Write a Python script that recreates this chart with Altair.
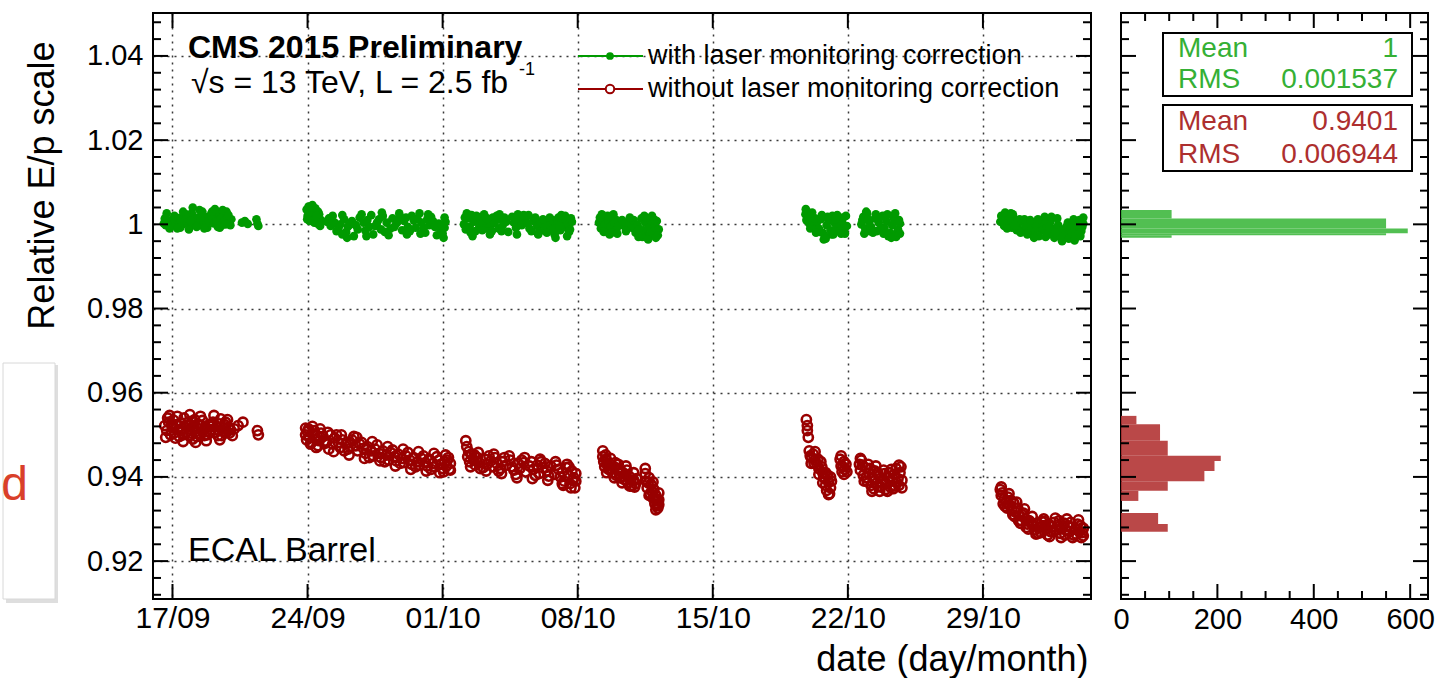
import altair as alt
import pandas as pd

FONT = "Liberation Sans"

# ---- E/p scale per run: (days since 17/09 00:00, relative E/p) ----
green_points = [
    # 17/09 - 21/09
    (-0.45, 1.0002), (-0.35, 0.9998), (-0.3, 1.0010), (-0.2, 1.0004), (-0.1, 0.9996),
    (0.0, 1.0012), (0.05, 1.0001), (0.15, 1.0008), (0.2, 0.9995), (0.3, 1.0015),
    (0.35, 1.0003), (0.45, 1.0009), (0.5, 0.9999), (0.6, 1.0018), (0.65, 1.0006),
    (0.75, 1.0002), (0.8, 1.0012), (0.9, 0.9997), (1.0, 1.0027), (1.05, 1.0040),
    (1.1, 1.0010), (1.2, 1.0003), (1.3, 1.0016), (1.35, 0.9998), (1.45, 1.0009),
    (1.5, 1.0021), (1.6, 1.0005), (1.7, 1.0013), (1.75, 0.9999), (1.85, 1.0018),
    (1.9, 1.0008), (2.0, 1.0024), (2.1, 1.0011), (2.15, 1.0002), (2.25, 1.0019),
    (2.3, 1.0007), (2.4, 1.0025), (2.5, 1.0014), (2.55, 0.9998), (2.65, 1.0020),
    (2.7, 1.0009), (2.8, 1.0030), (2.85, 1.0016), (2.95, 1.0004), (3.05, 1.0012),
    (3.6, 1.0004), (3.75, 1.0008), (3.9, 1.0001), (4.35, 1.0012), (4.4, 1.0002),
    (4.45, 0.9996),
    (-0.4, 1.0014), (-0.15, 0.9990), (0.1, 1.0020), (0.4, 0.9992), (0.7, 1.0024),
    (0.95, 1.0008), (1.25, 0.9994), (1.55, 1.0030), (1.8, 0.9992), (2.05, 1.0030),
    (2.35, 0.9994), (2.6, 1.0034), (2.9, 1.0022), (3.0, 0.9998),
    (-0.3, 1.0026), (0.25, 0.9990), (0.55, 1.0030), (0.85, 0.9988), (1.4, 1.0034),
    (1.65, 0.9990), (2.2, 1.0036), (2.45, 0.9992), (2.75, 1.0000),
    # 24/09 - 01/10
    (6.95, 1.0035), (7.0, 1.0020), (7.05, 1.0042), (7.1, 1.0008), (7.2, 1.0028),
    (7.3, 1.0015), (7.4, 1.0038), (7.5, 1.0002), (7.6, 1.0024), (7.7, 1.0010),
    (8.0, 1.0006), (8.2, 0.9996), (8.4, 1.0004), (8.6, 0.9990), (8.7, 1.0000),
    (8.9, 1.0012), (9.0, 0.9982), (9.05, 0.9968), (9.1, 0.9995), (9.3, 1.0008),
    (9.5, 0.9998), (9.7, 1.0016), (9.9, 1.0004), (10.0, 0.9985), (10.05, 0.9972),
    (10.1, 1.0010), (10.3, 1.0022), (10.5, 0.9996), (10.7, 1.0012), (10.8, 0.9988),
    (10.9, 1.0020), (11.1, 1.0004), (11.3, 0.9990), (11.4, 1.0014), (11.6, 1.0002),
    (11.8, 1.0018), (11.9, 0.9986), (12.0, 1.0008), (12.2, 0.9994), (12.4, 1.0020),
    (12.5, 1.0010), (12.6, 0.9992), (12.8, 1.0026), (12.9, 1.0004), (13.0, 0.9990),
    (13.2, 1.0012), (13.3, 0.9998), (13.5, 1.0008), (13.8, 1.0002), (13.9, 0.9988),
    (14.0, 0.9978), (14.1, 0.9992), (14.15, 1.0006),
    (6.98, 1.0012), (7.15, 1.0040), (7.35, 1.0004), (7.55, 1.0030), (8.1, 1.0014),
    (8.5, 0.9984), (8.8, 0.9976), (9.2, 1.0000), (9.6, 0.9988), (10.2, 0.9994),
    (10.6, 1.0004), (11.0, 0.9982), (11.5, 0.9994), (11.7, 1.0008), (12.1, 1.0016),
    (12.3, 0.9984), (12.7, 1.0012), (13.1, 0.9980), (13.4, 1.0018), (13.6, 0.9994),
    (13.95, 0.9998), (14.05, 0.9968),
    (7.25, 1.0046), (7.45, 1.0020), (7.65, 0.9996), (8.3, 1.0020), (8.8, 1.0022),
    (9.4, 0.9972), (9.8, 1.0024), (10.4, 0.9976), (10.85, 1.0028), (11.2, 0.9974),
    (11.75, 1.0026), (12.15, 0.9976), (12.85, 0.9978), (13.25, 1.0024), (13.7, 0.9974),
    (14.1, 1.0016),
    # 02/10 - 07/10
    (15.1, 1.0000), (15.2, 0.9988), (15.3, 1.0014), (15.4, 0.9994), (15.5, 1.0022),
    (15.6, 1.0006), (15.7, 0.9984), (15.8, 1.0010), (15.9, 0.9996), (16.0, 1.0018),
    (16.1, 1.0002), (16.2, 0.9990), (16.4, 1.0008), (16.5, 0.9998), (16.6, 1.0016),
    (16.7, 1.0004), (16.9, 0.9990), (17.0, 1.0012), (17.1, 0.9996), (17.3, 1.0006),
    (17.6, 1.0018), (17.7, 1.0004), (17.8, 0.9992), (17.9, 1.0024), (18.0, 1.0010),
    (18.1, 0.9998), (18.3, 1.0014), (18.4, 1.0002), (18.5, 0.9990), (18.7, 1.0008),
    (18.9, 0.9996), (19.0, 0.9982), (19.1, 1.0004), (19.3, 0.9994), (19.5, 1.0002),
    (19.6, 0.9990), (19.7, 1.0010), (19.8, 0.9976), (19.9, 0.9998), (20.0, 1.0016),
    (20.1, 0.9986), (20.2, 1.0008), (20.3, 0.9994), (20.4, 1.0012), (20.5, 1.0000),
    (20.6, 0.9988), (20.7, 1.0006),
    (15.15, 1.0016), (15.45, 0.9980), (15.75, 1.0020), (16.05, 0.9986), (16.3, 1.0014),
    (16.55, 0.9984), (16.8, 1.0020), (17.05, 0.9984), (17.2, 1.0016), (17.75, 1.0014),
    (18.2, 1.0022), (18.6, 0.9984), (18.8, 1.0016), (19.2, 1.0012), (19.4, 0.9980),
    (19.75, 0.9990), (20.05, 0.9996), (20.35, 1.0020), (20.55, 0.9982), (20.65, 1.0014),
    (15.25, 1.0026), (15.55, 0.9972), (16.15, 1.0024), (16.45, 0.9976), (16.95, 1.0024),
    (17.4, 0.9982), (17.85, 0.9976), (18.45, 1.0022), (18.95, 0.9976), (19.55, 1.0016),
    (19.85, 0.9968), (20.15, 1.0022), (20.45, 0.9972),
    # 09/10 - 12/10
    (22.1, 1.0004), (22.2, 0.9990), (22.3, 1.0012), (22.4, 0.9998), (22.5, 0.9984),
    (22.6, 1.0008), (22.7, 0.9994), (22.8, 1.0016), (22.9, 1.0002), (23.0, 0.9988),
    (23.2, 1.0006), (23.4, 0.9996), (23.6, 1.0004), (23.8, 0.9992), (23.9, 1.0010),
    (24.0, 0.9980), (24.1, 0.9998), (24.3, 1.0014), (24.4, 0.9986), (24.5, 1.0004),
    (24.6, 0.9972), (24.7, 0.9992), (24.8, 1.0010), (24.9, 0.9982), (25.0, 0.9998),
    (25.1, 1.0008), (25.2, 0.9988),
    (22.15, 1.0016), (22.35, 0.9982), (22.55, 1.0020), (22.75, 0.9980), (22.95, 1.0012),
    (23.1, 0.9996), (23.3, 1.0010), (23.5, 0.9984), (24.2, 0.9988), (24.35, 0.9970),
    (24.55, 1.0016), (24.75, 0.9976), (24.95, 1.0012), (25.15, 0.9974),
    (22.25, 1.0024), (22.65, 0.9976), (22.85, 1.0024), (23.05, 0.9978), (23.7, 1.0016),
    (24.15, 0.9970), (24.45, 1.0020), (24.65, 0.9964), (24.85, 1.0020), (25.05, 0.9968),
    # 19/10 - 21/10
    (32.8, 1.0024), (32.85, 1.0010), (32.9, 1.0030), (33.0, 1.0002), (33.1, 1.0016),
    (33.2, 0.9994), (33.4, 1.0006), (33.5, 0.9990), (33.6, 1.0012), (33.7, 0.9980),
    (33.8, 0.9972), (33.9, 0.9998), (34.0, 1.0010), (34.1, 0.9986), (34.2, 1.0020),
    (34.3, 1.0004), (34.4, 0.9992), (34.5, 1.0014), (34.6, 0.9996), (34.7, 1.0008),
    (34.8, 0.9988), (34.9, 1.0020),
    (32.82, 1.0036), (32.95, 1.0018), (33.05, 0.9990), (33.3, 1.0014), (33.55, 0.9982),
    (33.75, 0.9964), (33.95, 1.0018), (34.15, 0.9976), (34.35, 1.0012), (34.55, 0.9984),
    (34.75, 1.0016), (34.85, 0.9978),
    (33.15, 1.0028), (33.35, 0.9980), (33.65, 1.0022), (33.85, 0.9966), (34.25, 0.9976),
    (34.45, 1.0022), (34.65, 0.9978), (34.95, 0.9996),
    # 22/10 - 24/10
    (35.7, 1.0000), (35.8, 1.0018), (35.9, 0.9990), (36.0, 1.0026), (36.1, 1.0006),
    (36.2, 0.9994), (36.4, 1.0014), (36.5, 0.9984), (36.6, 1.0004), (36.8, 1.0020),
    (36.9, 0.9992), (37.0, 1.0008), (37.2, 0.9980), (37.3, 0.9998), (37.4, 1.0012),
    (37.5, 0.9970), (37.6, 0.9988), (37.7, 1.0002),
    (35.75, 1.0010), (35.95, 1.0030), (36.15, 0.9984), (36.45, 1.0024), (36.7, 0.9990),
    (36.95, 1.0016), (37.1, 0.9972), (37.35, 1.0020), (37.55, 0.9980), (37.65, 1.0010),
    (35.85, 0.9978), (36.05, 1.0012), (36.3, 0.9980), (36.55, 1.0016), (36.85, 0.9978),
    (37.05, 1.0024), (37.25, 0.9968), (37.45, 1.0026), (37.7, 0.9978),
    # 30/10 - 03/11
    (42.9, 1.0006), (43.0, 1.0018), (43.1, 0.9996), (43.2, 1.0010), (43.3, 1.0022),
    (43.4, 1.0002), (43.5, 0.9992), (43.6, 1.0014), (43.7, 1.0004), (43.8, 0.9994),
    (44.0, 1.0008), (44.1, 0.9986), (44.2, 0.9998), (44.4, 0.9984), (44.5, 0.9994),
    (44.6, 0.9980), (44.8, 0.9990), (45.0, 1.0002), (45.1, 0.9986), (45.2, 1.0018),
    (45.3, 0.9996), (45.4, 0.9976), (45.5, 1.0006), (45.6, 0.9990), (45.8, 0.9982),
    (45.9, 0.9998), (46.0, 0.9970), (46.1, 0.9960), (46.2, 0.9988), (46.3, 0.9976),
    (46.4, 1.0004), (46.5, 0.9992), (46.6, 0.9978), (46.7, 1.0012), (46.8, 0.9986),
    (46.9, 0.9996), (47.0, 1.0010), (47.1, 0.9984), (47.2, 1.0002),
    (42.95, 1.0020), (43.15, 1.0028), (43.35, 1.0012), (43.55, 1.0024), (43.75, 0.9986),
    (43.9, 1.0012), (44.3, 0.9976), (44.7, 1.0002), (44.9, 0.9972), (45.15, 1.0010),
    (45.45, 0.9990), (45.7, 0.9968), (46.05, 0.9984), (46.15, 0.9972), (46.45, 0.9966),
    (46.65, 0.9996), (46.95, 0.9976), (47.15, 0.9994),
    (43.05, 1.0004), (43.25, 0.9990), (43.45, 1.0026), (43.65, 0.9998), (43.95, 0.9980),
    (44.15, 1.0012), (44.45, 1.0010), (44.65, 0.9968), (44.85, 1.0012), (45.25, 0.9970),
    (45.55, 1.0018), (45.75, 0.9980), (45.85, 1.0014), (46.35, 0.9996), (46.75, 0.9962),
    (47.05, 0.9972), (47.2, 1.0016),
]

red_points = [
    # 17/09 - 21/09
    (-0.4, 0.9522), (-0.3, 0.9510), (-0.2, 0.9530), (-0.1, 0.9500), (0.0, 0.9518),
    (0.05, 0.9535), (0.1, 0.9505), (0.2, 0.9524), (0.3, 0.9512), (0.35, 0.9496),
    (0.45, 0.9528), (0.5, 0.9515), (0.6, 0.9540), (0.7, 0.9506), (0.75, 0.9522),
    (0.85, 0.9498), (0.9, 0.9514), (1.0, 0.9532), (1.05, 0.9490), (1.1, 0.9520),
    (1.2, 0.9508), (1.3, 0.9526), (1.35, 0.9514), (1.45, 0.9502), (1.5, 0.9522),
    (1.6, 0.9510), (1.7, 0.9518), (1.8, 0.9500), (1.9, 0.9524), (2.0, 0.9512),
    (2.1, 0.9530), (2.2, 0.9506), (2.3, 0.9520), (2.4, 0.9510), (2.5, 0.9538),
    (2.55, 0.9498), (2.6, 0.9516), (2.7, 0.9524), (2.8, 0.9506), (2.9, 0.9518),
    (3.0, 0.9512), (3.65, 0.9530), (4.4, 0.9510), (4.45, 0.9500),
    (-0.25, 0.9540), (-0.05, 0.9526), (0.15, 0.9492), (0.4, 0.9510), (0.55, 0.9500),
    (0.8, 0.9530), (0.95, 0.9504), (1.15, 0.9536), (1.25, 0.9496), (1.55, 0.9534),
    (1.65, 0.9498), (1.95, 0.9506), (2.05, 0.9520), (2.35, 0.9498), (2.45, 0.9526),
    (2.65, 0.9508), (2.75, 0.9530), (2.95, 0.9504), (3.2, 0.9514), (3.4, 0.9522),
    (-0.35, 0.9494), (-0.15, 0.9546), (0.25, 0.9544), (0.55, 0.9484), (0.9, 0.9548),
    (1.2, 0.9482), (1.45, 0.9544), (1.75, 0.9486), (2.15, 0.9546), (2.45, 0.9488),
    (2.85, 0.9536), (3.1, 0.9498),
    # 24/09 - 01/10
    (6.9, 0.9500), (6.95, 0.9488), (7.0, 0.9508), (7.1, 0.9494), (7.2, 0.9482),
    (7.3, 0.9502), (7.4, 0.9490), (7.5, 0.9498), (7.6, 0.9486), (7.8, 0.9496),
    (8.0, 0.9484), (8.2, 0.9500), (8.3, 0.9478), (8.4, 0.9492), (8.6, 0.9482),
    (8.7, 0.9470), (8.8, 0.9488), (9.0, 0.9478), (9.1, 0.9466), (9.2, 0.9482),
    (9.4, 0.9496), (9.5, 0.9474), (9.6, 0.9462), (9.7, 0.9478), (9.9, 0.9468),
    (10.0, 0.9456), (10.1, 0.9472), (10.3, 0.9462), (10.4, 0.9450), (10.5, 0.9466),
    (10.7, 0.9456), (10.8, 0.9446), (10.9, 0.9462), (11.1, 0.9452), (11.2, 0.9440),
    (11.3, 0.9458), (11.5, 0.9448), (11.6, 0.9438), (11.7, 0.9454), (11.9, 0.9444),
    (12.0, 0.9434), (12.1, 0.9450), (12.3, 0.9440), (12.4, 0.9430), (12.5, 0.9446),
    (12.7, 0.9436), (12.8, 0.9428), (12.9, 0.9444), (13.1, 0.9434), (13.2, 0.9426),
    (13.3, 0.9442), (13.5, 0.9432), (13.6, 0.9424), (13.8, 0.9440), (13.9, 0.9430),
    (14.0, 0.9420), (14.1, 0.9436), (14.2, 0.9426), (14.3, 0.9446), (14.4, 0.9432),
    (7.05, 0.9514), (7.15, 0.9478), (7.35, 0.9510), (7.55, 0.9474), (7.7, 0.9504),
    (7.9, 0.9480), (8.1, 0.9466), (8.5, 0.9500), (8.9, 0.9462), (9.3, 0.9488),
    (9.8, 0.9482), (10.2, 0.9446), (10.6, 0.9476), (11.0, 0.9436), (11.4, 0.9464),
    (11.8, 0.9432), (12.2, 0.9458), (12.6, 0.9424), (13.0, 0.9450), (13.4, 0.9418),
    (13.7, 0.9448), (14.05, 0.9412), (14.25, 0.9440), (14.35, 0.9418),
    (6.9, 0.9516), (7.25, 0.9520), (7.45, 0.9470), (7.65, 0.9514), (8.05, 0.9506),
    (8.35, 0.9460), (8.75, 0.9500), (9.15, 0.9452), (9.55, 0.9494), (9.95, 0.9444),
    (10.35, 0.9484), (10.75, 0.9438), (11.15, 0.9472), (11.55, 0.9426), (11.95, 0.9466),
    (12.35, 0.9418), (12.75, 0.9460), (13.15, 0.9414), (13.55, 0.9456), (13.85, 0.9410),
    (14.15, 0.9452), (14.4, 0.9416),
    # 02/10 - 07/10
    (15.2, 0.9486), (15.25, 0.9472), (15.3, 0.9448), (15.4, 0.9436), (15.5, 0.9454),
    (15.6, 0.9440), (15.7, 0.9428), (15.8, 0.9446), (15.9, 0.9434), (16.1, 0.9422),
    (16.2, 0.9442), (16.3, 0.9430), (16.5, 0.9438), (16.6, 0.9424), (16.7, 0.9446),
    (16.8, 0.9432), (17.0, 0.9420), (17.1, 0.9436), (17.3, 0.9428), (17.5, 0.9440),
    (17.6, 0.9424), (17.7, 0.9416), (17.9, 0.9432), (18.0, 0.9420), (18.2, 0.9434),
    (18.3, 0.9412), (18.5, 0.9426), (18.6, 0.9436), (18.7, 0.9418), (18.9, 0.9428),
    (19.0, 0.9408), (19.2, 0.9422), (19.3, 0.9432), (19.4, 0.9414), (19.6, 0.9426),
    (19.8, 0.9406), (20.0, 0.9418), (20.1, 0.9400), (20.2, 0.9412), (20.3, 0.9390),
    (20.4, 0.9422), (20.5, 0.9404), (20.6, 0.9384), (20.7, 0.9414), (20.8, 0.9398),
    (20.9, 0.9408),
    (15.35, 0.9460), (15.65, 0.9452), (15.95, 0.9420), (16.4, 0.9450), (16.9, 0.9414),
    (17.2, 0.9446), (17.8, 0.9406), (18.1, 0.9440), (18.8, 0.9404), (19.1, 0.9436),
    (19.5, 0.9402), (19.9, 0.9428), (20.25, 0.9380), (20.55, 0.9424), (20.75, 0.9392),
    (20.85, 0.9374),
    (15.45, 0.9424), (15.85, 0.9458), (16.25, 0.9414), (16.65, 0.9454), (17.05, 0.9408),
    (17.45, 0.9450), (17.85, 0.9398), (18.25, 0.9446), (18.65, 0.9396), (19.05, 0.9442),
    (19.45, 0.9392), (19.85, 0.9436), (20.2, 0.9384), (20.45, 0.9430), (20.65, 0.9374),
    (20.9, 0.9390),
    # 09/10 - 12/10
    (22.3, 0.9448), (22.35, 0.9436), (22.4, 0.9424), (22.5, 0.9440), (22.6, 0.9418),
    (22.7, 0.9430), (22.8, 0.9410), (22.9, 0.9424), (23.0, 0.9404), (23.1, 0.9418),
    (23.2, 0.9398), (23.3, 0.9412), (23.4, 0.9394), (23.5, 0.9406), (23.6, 0.9386),
    (23.7, 0.9400), (23.8, 0.9378), (23.9, 0.9392), (24.0, 0.9384), (24.5, 0.9408),
    (24.55, 0.9390), (24.6, 0.9374), (24.7, 0.9398), (24.75, 0.9360), (24.8, 0.9382),
    (24.9, 0.9350), (24.95, 0.9370), (25.0, 0.9336), (25.05, 0.9356), (25.1, 0.9344),
    (25.15, 0.9326), (25.2, 0.9362),
    (22.45, 0.9452), (22.55, 0.9428), (22.75, 0.9420), (22.95, 0.9434), (23.15, 0.9408),
    (23.35, 0.9402), (23.55, 0.9416), (23.75, 0.9392), (23.95, 0.9376), (24.05, 0.9396),
    (24.65, 0.9386), (24.85, 0.9366), (25.0, 0.9350), (25.1, 0.9332), (25.2, 0.9346),
    (22.3, 0.9462), (22.5, 0.9410), (22.7, 0.9444), (22.9, 0.9398), (23.1, 0.9430),
    (23.3, 0.9386), (23.5, 0.9426), (23.7, 0.9378), (23.9, 0.9410), (24.5, 0.9420),
    (24.7, 0.9356), (24.9, 0.9388), (25.05, 0.9322), (25.2, 0.9334),
    # 19/10 - 21/10
    (32.85, 0.9536), (32.9, 0.9522), (32.95, 0.9494), (33.0, 0.9462), (33.1, 0.9446),
    (33.2, 0.9454), (33.3, 0.9440), (33.4, 0.9430), (33.5, 0.9420), (33.6, 0.9436),
    (33.7, 0.9410), (33.8, 0.9396), (33.85, 0.9380), (33.9, 0.9368), (33.95, 0.9404),
    (34.0, 0.9388), (34.1, 0.9374), (34.6, 0.9442), (34.65, 0.9426), (34.7, 0.9412),
    (34.8, 0.9436), (34.85, 0.9418), (34.9, 0.9430),
    (33.05, 0.9450), (33.25, 0.9432), (33.45, 0.9442), (33.65, 0.9424), (33.75, 0.9400),
    (34.05, 0.9360), (34.15, 0.9390), (34.75, 0.9424), (34.95, 0.9412),
    (32.9, 0.9510), (33.1, 0.9432), (33.3, 0.9460), (33.5, 0.9406), (33.7, 0.9386),
    (33.85, 0.9410), (34.0, 0.9358), (34.1, 0.9400), (34.65, 0.9450), (34.8, 0.9406),
    # 22/10 - 24/10
    (35.6, 0.9430), (35.65, 0.9416), (35.7, 0.9440), (35.8, 0.9404), (35.9, 0.9422),
    (36.0, 0.9390), (36.1, 0.9408), (36.2, 0.9380), (36.3, 0.9398), (36.4, 0.9414),
    (36.5, 0.9386), (36.6, 0.9402), (36.7, 0.9376), (36.8, 0.9394), (36.9, 0.9408),
    (37.0, 0.9384), (37.1, 0.9398), (37.2, 0.9376), (37.3, 0.9390), (37.4, 0.9406),
    (37.5, 0.9420), (37.6, 0.9396), (37.65, 0.9380), (37.7, 0.9410), (37.8, 0.9392),
    (35.75, 0.9428), (35.95, 0.9398), (36.15, 0.9420), (36.35, 0.9372), (36.55, 0.9410),
    (36.75, 0.9388), (36.95, 0.9370), (37.15, 0.9410), (37.35, 0.9372), (37.55, 0.9386),
    (37.75, 0.9424),
    (35.65, 0.9444), (35.85, 0.9390), (36.05, 0.9430), (36.25, 0.9366), (36.45, 0.9426),
    (36.65, 0.9366), (36.85, 0.9416), (37.05, 0.9366), (37.25, 0.9418), (37.45, 0.9378),
    (37.65, 0.9428), (37.8, 0.9374),
    # 30/10 - 03/11
    (42.9, 0.9370), (42.95, 0.9356), (43.0, 0.9362), (43.1, 0.9348), (43.2, 0.9340),
    (43.3, 0.9352), (43.4, 0.9332), (43.5, 0.9322), (43.6, 0.9338), (43.7, 0.9316),
    (43.8, 0.9326), (43.9, 0.9308), (44.0, 0.9296), (44.1, 0.9314), (44.2, 0.9300),
    (44.3, 0.9288), (44.4, 0.9296), (44.6, 0.9284), (44.7, 0.9274), (44.8, 0.9290),
    (44.9, 0.9280), (45.0, 0.9268), (45.1, 0.9284), (45.2, 0.9294), (45.3, 0.9276),
    (45.4, 0.9288), (45.5, 0.9270), (45.6, 0.9282), (45.7, 0.9292), (45.8, 0.9274),
    (45.9, 0.9286), (46.0, 0.9266), (46.1, 0.9280), (46.2, 0.9290), (46.3, 0.9274),
    (46.4, 0.9284), (46.5, 0.9270), (46.6, 0.9280), (46.7, 0.9262), (46.8, 0.9276),
    (46.9, 0.9288), (47.0, 0.9270), (47.1, 0.9256), (47.2, 0.9278),
    (43.05, 0.9336), (43.25, 0.9326), (43.45, 0.9344), (43.65, 0.9306), (43.85, 0.9296),
    (44.05, 0.9310), (44.25, 0.9280), (44.5, 0.9290), (44.75, 0.9264), (45.05, 0.9294),
    (45.35, 0.9262), (45.65, 0.9270), (45.95, 0.9296), (46.25, 0.9262), (46.55, 0.9292),
    (46.85, 0.9264), (47.05, 0.9284), (47.15, 0.9268),
    (42.95, 0.9376), (43.15, 0.9330), (43.35, 0.9360), (43.55, 0.9310), (43.75, 0.9340),
    (43.95, 0.9290), (44.15, 0.9324), (44.35, 0.9276), (44.55, 0.9306), (44.85, 0.9266),
    (45.15, 0.9300), (45.45, 0.9258), (45.75, 0.9302), (46.05, 0.9256), (46.35, 0.9300),
    (46.65, 0.9256), (46.95, 0.9298), (47.2, 0.9260),
]

# ---- projected distributions: (bin low edge, bin high edge, entries) ----
green_hist = [
    (1.0014, 1.0034, 105),
    (0.9990, 1.0014, 550),
    (0.9979, 0.9990, 595),
    (0.9974, 0.9979, 550),
    (0.9968, 0.9974, 105),
]
red_hist = [
    (0.9525, 0.9545, 32),
    (0.9486, 0.9525, 81),
    (0.9450, 0.9486, 97),
    (0.9438, 0.9450, 207),
    (0.9414, 0.9438, 194),
    (0.9390, 0.9414, 173),
    (0.9367, 0.9390, 97),
    (0.9343, 0.9367, 36),
    (0.9288, 0.9314, 77),
    (0.9270, 0.9288, 97),
]

stat_names = ["Mean", "RMS"]
green_stats = ["1", "0.001537"]
red_stats = ["0.9401", "0.006944"]

legend_labels = ["with laser monitoring correction", "without laser monitoring correction"]

date_ticks = [0, 7, 14, 21, 28, 35, 42]
date_labels = ["17/09", "24/09", "01/10", "08/10", "15/10", "22/10", "29/10"]
y_major = [0.92, 0.94, 0.96, 0.98, 1.00, 1.02, 1.04]
y_minor = [0.912, 0.916, 0.924, 0.928, 0.932, 0.936, 0.944, 0.948, 0.952, 0.956,
           0.964, 0.968, 0.972, 0.976, 0.984, 0.988, 0.992, 0.996, 1.004, 1.008,
           1.012, 1.016, 1.024, 1.028, 1.032, 1.036, 1.044, 1.048]
count_major = [0, 200, 400, 600]
count_minor = [50, 100, 150, 250, 300, 350, 450, 500, 550]

GREEN = "#009a00"
RED = "#990000"
GREEN_HIST = "#3fb83f"
RED_HIST = "#b23434"
GREEN_STAT = "#35b035"
RED_STAT = "#ad2f2f"

W_MAIN, W_HIST, H = 938, 307, 586

x_scale = alt.Scale(domain=[-1.01, 47.6], nice=False, zero=False)
y_scale = alt.Scale(domain=[0.911, 1.0502], nice=False, zero=False)
n_scale = alt.Scale(domain=[0, 637], nice=False, zero=False)

green_df = pd.DataFrame(green_points, columns=["day", "val"])
red_df = pd.DataFrame(red_points, columns=["day", "val"])
gh_df = pd.DataFrame(green_hist, columns=["lo", "hi", "n"])
rh_df = pd.DataFrame(red_hist, columns=["lo", "hi", "n"])
one = pd.DataFrame({"k": [0]})

label_js = "[" + ",".join("'%s'" % s for s in date_labels) + "]"

grid_kw = dict(grid=True, gridColor="#3a3a3a", gridDash=[2, 5], gridWidth=1.5,
               ticks=False, tickSize=0, domain=False, labelFlush=False,
               labelFont=FONT, labelColor="black", titleFont=FONT,
               titleColor="black", titleFontWeight="normal")

# the same axis objects go on every layer of a panel so that they merge cleanly
x_axis = alt.Axis(values=date_ticks, labelExpr=label_js + "[round(datum.value / 7)]",
                  labelFontSize=30, labelPadding=4, title="date (day/month)",
                  titleFontSize=36, titleAlign="right", titleAnchor="end",
                  titleX=935, titleY=71, titleBaseline="alphabetic", **grid_kw)
y_axis = alt.Axis(values=y_major, format=".2~f", labelFontSize=29, labelPadding=10,
                  title="Relative E/p scale", titleFontSize=36, titleAngle=270,
                  titleAlign="right", titleBaseline="alphabetic",
                  titleX=-100, titleY=28, **grid_kw)
n_axis = alt.Axis(values=count_major, format="d", labelFontSize=29, labelPadding=6,
                  title=None, grid=False, ticks=False, tickSize=0, domain=False,
                  labelFlush=False, labelFont=FONT, labelColor="black")

X_MAIN = alt.X("day:Q", scale=x_scale, axis=x_axis)
Y_MAIN = alt.Y("val:Q", scale=y_scale, axis=y_axis)
Y_HIST = alt.Y("val:Q", scale=y_scale, axis=None)
X_HIST = alt.X("n:Q", scale=n_scale, axis=n_axis)

green_layer = alt.Chart(green_df).mark_circle(size=75, opacity=1, color=GREEN).encode(
    x=X_MAIN, y=Y_MAIN)
red_layer = alt.Chart(red_df).mark_point(
    shape="circle", filled=False, size=85, strokeWidth=2.6, color=RED, opacity=1
).encode(x=X_MAIN, y=Y_MAIN)


def y_ticks(values, length, width, y_enc):
    df = pd.DataFrame({"val": values})
    left = alt.Chart(df).mark_rule(color="black", strokeWidth=2).encode(
        y=y_enc, x=alt.value(0), x2=alt.value(length))
    right = alt.Chart(df).mark_rule(color="black", strokeWidth=2).encode(
        y=y_enc, x=alt.value(width - length), x2=alt.value(width))
    return [left, right]


def x_ticks(values, field, x_enc, length):
    df = pd.DataFrame({field: values})
    bottom = alt.Chart(df).mark_rule(color="black", strokeWidth=2).encode(
        x=x_enc, y=alt.value(H - length), y2=alt.value(H))
    top = alt.Chart(df).mark_rule(color="black", strokeWidth=2).encode(
        x=x_enc, y=alt.value(0), y2=alt.value(length))
    return [bottom, top]


def text(label, x, y, size, color="black", weight="normal", align="left",
         baseline="middle"):
    return alt.Chart(one).mark_text(
        text=label, font=FONT, fontSize=size, color=color, fontWeight=weight,
        align=align, baseline=baseline,
    ).encode(x=alt.value(x), y=alt.value(y))


# legend entries
leg_green_line = alt.Chart(one).mark_rule(color=GREEN, strokeWidth=2).encode(
    x=alt.value(425), x2=alt.value(490), y=alt.value(43))
leg_green_dot = alt.Chart(one).mark_circle(size=60, color=GREEN, opacity=1).encode(
    x=alt.value(457), y=alt.value(43))
leg_red_line = alt.Chart(one).mark_rule(color=RED, strokeWidth=2).encode(
    x=alt.value(425), x2=alt.value(490), y=alt.value(76))
leg_red_dot = alt.Chart(one).mark_point(
    shape="circle", filled=True, fill="white", size=72, strokeWidth=2,
    stroke=RED, opacity=1).encode(x=alt.value(457), y=alt.value(76))

# slide box peeking in on the far left
box_shadow = alt.Chart(one).mark_rect(color="#c8c8c8", opacity=0.6).encode(
    x=alt.value(-147), x2=alt.value(-95), y=alt.value(352), y2=alt.value(590))
box = alt.Chart(one).mark_rect(fill="white", stroke="#d8d8d8", strokeWidth=1).encode(
    x=alt.value(-150), x2=alt.value(-98), y=alt.value(350), y2=alt.value(586))
box_letter = text("d", -125, 487, 48, color="#d9402a", align="right",
                  baseline="alphabetic")

main = alt.layer(
    green_layer, red_layer,
    *y_ticks(y_major, 15, W_MAIN, Y_MAIN), *y_ticks(y_minor, 8, W_MAIN, Y_MAIN),
    *x_ticks(date_ticks, "day", X_MAIN, 15),
    leg_green_line, leg_green_dot, leg_red_line, leg_red_dot,
    text(legend_labels[0], 495, 43, 27),
    text(legend_labels[1], 495, 76, 27),
    text("CMS 2015 Preliminary", 35, 35, 32, weight="bold"),
    text("\u221as = 13 TeV, L = 2.5 fb", 38, 70, 32),
    text("-1", 366, 57, 18),
    text("ECAL Barrel", 35, 538, 34),
    box_shadow, box, box_letter,
).properties(width=W_MAIN, height=H)

green_bars = alt.Chart(gh_df).mark_rect(color=GREEN_HIST, opacity=0.9).encode(
    x=X_HIST, x2=alt.datum(0),
    y=alt.Y("lo:Q", scale=y_scale, axis=None), y2="hi:Q")
red_bars = alt.Chart(rh_df).mark_rect(color=RED_HIST, opacity=0.9).encode(
    x=X_HIST, x2=alt.datum(0),
    y=alt.Y("lo:Q", scale=y_scale, axis=None), y2="hi:Q")


def stat_box(y0, y1, values, color):
    frame = alt.Chart(one).mark_rect(fill="white", stroke="black", strokeWidth=2).encode(
        x=alt.value(42), x2=alt.value(291), y=alt.value(y0), y2=alt.value(y1))
    layers = [frame]
    step = (y1 - y0) / 2
    for i, (name, val) in enumerate(zip(stat_names, values)):
        yc = y0 + step * (i + 0.5)
        layers.append(text(name, 57, yc, 28, color=color))
        layers.append(text(val, 277, yc, 28, color=color, align="right"))
    return layers


hist = alt.layer(
    green_bars, red_bars,
    *y_ticks(y_major, 15, W_HIST, Y_HIST), *y_ticks(y_minor, 8, W_HIST, Y_HIST),
    *x_ticks(count_major, "n", X_HIST, 15), *x_ticks(count_minor, "n", X_HIST, 8),
    *stat_box(20, 83, green_stats, GREEN_STAT),
    *stat_box(92, 158, red_stats, RED_STAT),
).properties(width=W_HIST, height=H)

chart = alt.hconcat(main, hist, spacing=16).properties(
    padding={"left": 0, "top": 11, "right": 0, "bottom": 0},
    background="white",
).configure_view(stroke="black", strokeWidth=2)

chart.save("out.html", embed_options={"renderer": "svg", "actions": False})
